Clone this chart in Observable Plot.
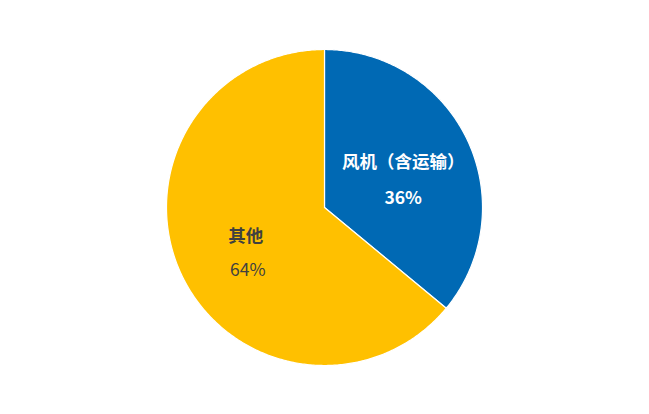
<!DOCTYPE html>
<html>
<head>
<meta charset="utf-8">
<script src="https://cdn.jsdelivr.net/npm/d3@7"></script>
<script src="https://cdn.jsdelivr.net/npm/@observablehq/plot@0.6"></script>
<style>
  html, body { margin: 0; padding: 0; background: #fff; }
  #chart svg { display: block; }
</style>
</head>
<body>
<div id="chart"></div>
<script>
const categories = ["风机（含运输）", "其他"];
const values = [36, 64];
const percentLabels = ["36%", "64%"];
const colors = ["#0069B4", "#FFC000"];
const labelColors = ["#ffffff", "#404040"];
const valueWeights = ["bold", "normal"];

const pie = d3.pie().sort(null).value(d => d)(values);

// slice outlines in unit coordinates (angle 0 at top, clockwise)
const slicePts = [];
pie.forEach((p, i) => {
  const n = Math.max(2, Math.ceil((p.endAngle - p.startAngle) / 0.01));
  slicePts.push({cat: categories[i], x: 0, y: 0});
  for (let k = 0; k <= n; k++) {
    const a = p.startAngle + (p.endAngle - p.startAngle) * k / n;
    slicePts.push({cat: categories[i], x: Math.sin(a), y: Math.cos(a)});
  }
  slicePts.push({cat: categories[i], x: 0, y: 0});
});

const labels = pie.map((p, i) => {
  const a = (p.startAngle + p.endAngle) / 2;
  const r = 0.55;
  return {cat: categories[i], pct: percentLabels[i], x: r * Math.sin(a), y: r * Math.cos(a), color: labelColors[i], w: valueWeights[i]};
});

const chart = Plot.plot({
  width: 649,
  height: 414,
  marginLeft: 166,
  marginRight: 167,
  marginTop: 49,
  marginBottom: 49,
  x: {domain: [-1, 1], axis: null},
  y: {domain: [-1, 1], axis: null},
  color: {domain: categories, range: colors},
  marks: [
    Plot.line(slicePts, {x: "x", y: "y", z: "cat", fill: "cat", stroke: "white", strokeWidth: 1.2, strokeLinejoin: "round"}),
    Plot.text(labels, {x: "x", y: "y", text: "cat", dy: -8, fill: d => d.color, fontSize: 17.5, fontWeight: "bold", fontFamily: "Noto Sans CJK SC"}),
    Plot.text(labels.filter(d => d.w === "bold"), {x: "x", y: "y", text: "pct", dy: 28, fill: d => d.color, fontSize: 17.5, fontWeight: "bold", fontFamily: "Noto Sans CJK SC"}),
    Plot.text(labels.filter(d => d.w !== "bold"), {x: "x", y: "y", text: "pct", dx: 2, dy: 26, fill: d => d.color, fontSize: 17.5, fontWeight: "normal", fontFamily: "Noto Sans CJK SC"})
  ]
});
document.getElementById("chart").appendChild(chart);
</script>
</body>
</html>
